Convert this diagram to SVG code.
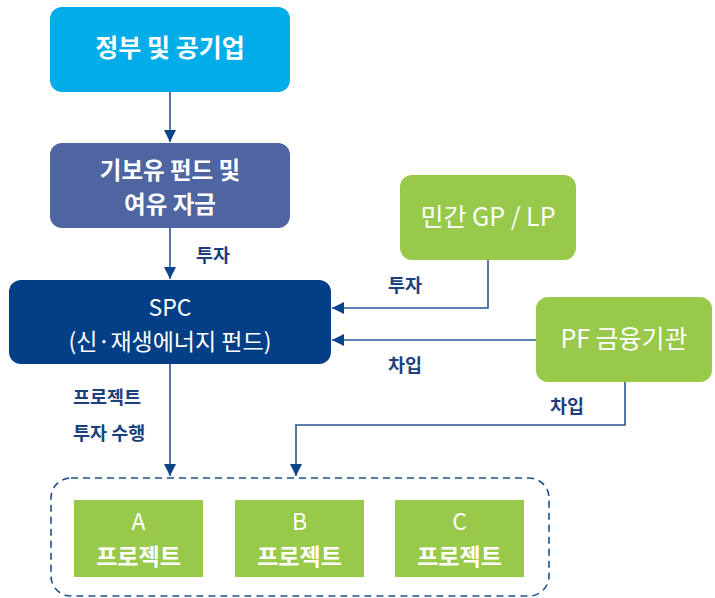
<svg xmlns="http://www.w3.org/2000/svg" width="715" height="598" viewBox="0 0 715 598">
<defs>
<marker id="arr" viewBox="0 0 12 12" refX="12" refY="6" markerWidth="12" markerHeight="12" markerUnits="userSpaceOnUse" orient="auto">
<path d="M0,0 L12,6 L0,12 Z" fill="#0B4488"/>
</marker>
<style>
.t{font-family:"Noto Sans CJK KR","Noto Sans",sans-serif;fill:#fff;text-anchor:middle}
.b{font-weight:bold}
.lbl{font-family:"Noto Sans CJK KR","Noto Sans",sans-serif;fill:#1C3F7E;font-weight:bold;font-size:18.5px}
.ln{fill:none;stroke:#2A5693;stroke-width:1.6}
.green{fill:#98C94A}
</style>
</defs>
<rect width="715" height="598" fill="#fff"/>
<g id="gov">
<rect x="50" y="7" width="240" height="85" rx="12" fill="#00ADE8"/>
<text class="t b" x="170" y="57" font-size="25">정부 및 공기업</text>
</g>
<g id="fund">
<rect x="50" y="143" width="240" height="85" rx="12" fill="#4E65A1"/>
<text class="t b" x="170" y="179" font-size="23.5">기보유 펀드 및</text>
<text class="t b" x="170" y="213" font-size="23.5">여유 자금</text>
</g>
<g id="spc">
<rect x="9" y="280" width="322" height="84" rx="12" fill="#033F86"/>
<text class="t" x="170" y="316" font-size="23">SPC</text>
<text class="t" x="170" y="350" font-size="23">(신·재생에너지 펀드)</text>
</g>
<g id="gp">
<rect x="400" y="175" width="176" height="85" rx="12" class="green"/>
<text class="t" x="488" y="226" font-size="25">민간 GP / LP</text>
</g>
<g id="pf">
<rect x="536" y="297" width="176" height="85" rx="12" class="green"/>
<text class="t" x="624" y="348" font-size="25">PF 금융기관</text>
</g>
<g id="projects">
<rect x="51" y="478" width="498" height="118" rx="20" fill="none" stroke="#1F4E8C" stroke-width="1.6" stroke-dasharray="7,5"/>
</g>
<g id="projA">
<rect x="74" y="500" width="129" height="77" class="green"/>
<text class="t" x="138.5" y="530" font-size="23">A</text>
<text class="t b" x="138.5" y="565" font-size="23">프로젝트</text>
</g>
<g id="projB">
<rect x="235" y="500" width="129" height="77" class="green"/>
<text class="t" x="299.5" y="530" font-size="23">B</text>
<text class="t b" x="299.5" y="565" font-size="23">프로젝트</text>
</g>
<g id="projC">
<rect x="395" y="500" width="129" height="77" class="green"/>
<text class="t" x="459.5" y="530" font-size="23">C</text>
<text class="t b" x="459.5" y="565" font-size="23">프로젝트</text>
</g>
<g id="connectors">
<path class="ln" d="M170,92 V142" marker-end="url(#arr)"/>
<path class="ln" d="M170,228 V279" marker-end="url(#arr)"/>
<path class="ln" d="M488,260 V308 H332" marker-end="url(#arr)"/>
<path class="ln" d="M536,340 H332" marker-end="url(#arr)"/>
<path class="ln" d="M625,382 V425 H296 V476" marker-end="url(#arr)"/>
<path class="ln" d="M170,364 V476" marker-end="url(#arr)"/>
<text class="lbl" x="196" y="262">투자</text>
<text class="lbl" x="388" y="292">투자</text>
<text class="lbl" x="388" y="372">차입</text>
<text class="lbl" x="550" y="413">차입</text>
<text class="lbl" x="73" y="404">프로젝트</text>
<text class="lbl" x="73" y="440">투자 수행</text>
</g>
</svg>
